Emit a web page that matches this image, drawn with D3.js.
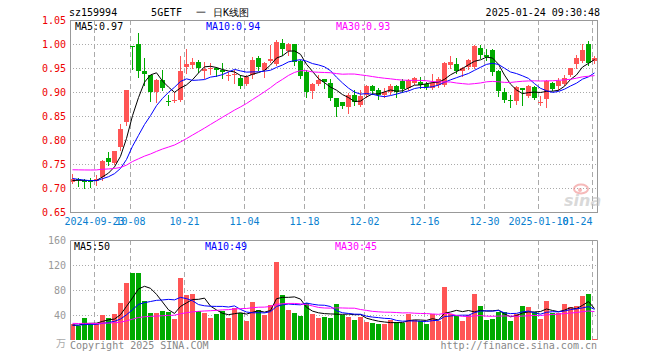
<!DOCTYPE html>
<html>
<head>
<meta charset="utf-8">
<script src="https://cdn.jsdelivr.net/npm/d3@7"></script>
<style>
  body { margin: 0; background: #fff; }
  svg { display: block; }
  text { font-family: "DejaVu Sans Mono", monospace; font-size: 10px; }
</style>
</head>
<body>
<div id="main-chart"></div>
<script>
// daily bars, oldest first (price in yuan, volume in 10k)
var open = [0.713,0.719,0.716,0.716,0.714,0.722,0.763,0.752,0.785,0.837,
  0.995,1.001,0.944,0.935,0.899,0.926,0.882,0.881,0.883,0.953,
  0.957,0.962,0.944,0.948,0.951,0.946,0.934,0.935,0.930,0.917,
  0.935,0.970,0.946,0.965,0.958,1.003,0.985,0.999,0.965,0.942,
  0.902,0.917,0.927,0.918,0.887,0.879,0.869,0.894,0.873,0.894,
  0.912,0.904,0.894,0.899,0.912,0.923,0.908,0.919,0.921,0.916,
  0.909,0.915,0.915,0.956,0.958,0.943,0.953,0.953,0.992,0.977,
  0.988,0.944,0.899,0.884,0.881,0.908,0.892,0.911,0.878,0.885,
  0.918,0.913,0.916,0.935,0.958,0.965,0.999,0.964];
var high = [0.730,0.720,0.718,0.721,0.727,0.758,0.776,0.778,0.833,0.905,
  0.995,1.023,0.970,0.936,0.927,0.946,0.894,0.900,0.974,0.989,
  0.970,0.966,0.963,0.960,0.953,0.961,0.942,0.946,0.935,0.935,
  0.972,0.976,0.963,0.998,1.008,1.010,1.003,1.001,0.967,0.946,
  0.918,0.935,0.928,0.928,0.888,0.880,0.897,0.904,0.904,0.915,
  0.915,0.908,0.908,0.916,0.915,0.927,0.928,0.932,0.932,0.921,
  0.937,0.932,0.963,0.974,0.970,0.953,0.968,0.998,0.998,0.990,
  0.989,0.945,0.908,0.894,0.912,0.909,0.915,0.912,0.891,0.925,
  0.920,0.930,0.935,0.951,0.977,0.999,1.006,0.975];
var low = [0.710,0.704,0.700,0.702,0.706,0.716,0.748,0.750,0.779,0.832,
  0.948,0.932,0.915,0.882,0.880,0.904,0.873,0.880,0.882,0.939,
  0.950,0.942,0.930,0.937,0.934,0.930,0.925,0.918,0.909,0.915,
  0.929,0.946,0.932,0.963,0.956,0.978,0.978,0.957,0.930,0.890,
  0.888,0.915,0.908,0.883,0.850,0.866,0.857,0.873,0.871,0.890,
  0.895,0.885,0.890,0.895,0.890,0.901,0.904,0.916,0.908,0.906,
  0.907,0.911,0.913,0.949,0.939,0.934,0.947,0.950,0.971,0.967,
  0.935,0.892,0.880,0.869,0.876,0.873,0.890,0.886,0.872,0.868,
  0.904,0.904,0.914,0.934,0.949,0.963,0.956,0.960];
var close = [0.719,0.716,0.712,0.713,0.718,0.757,0.755,0.777,0.823,0.904,
  0.994,0.944,0.937,0.899,0.926,0.908,0.881,0.883,0.944,0.958,
  0.962,0.951,0.947,0.950,0.945,0.941,0.936,0.937,0.913,0.932,
  0.967,0.953,0.960,0.969,1.005,0.990,1.001,0.963,0.934,0.901,
  0.916,0.925,0.921,0.888,0.869,0.870,0.894,0.880,0.892,0.912,
  0.902,0.894,0.901,0.912,0.899,0.906,0.924,0.930,0.915,0.911,
  0.918,0.928,0.960,0.962,0.944,0.951,0.967,0.996,0.977,0.972,
  0.942,0.902,0.883,0.883,0.911,0.904,0.913,0.888,0.879,0.922,
  0.906,0.923,0.930,0.949,0.970,0.988,0.961,0.970];
var volume = [25.6,23,35.7,25,25,40,35.7,42,59.7,91.7,
  107.7,107.7,62.9,43.5,43.5,46.4,45,34,99.5,72,
  73.6,46.4,43.5,35.5,41.6,46.4,35.5,51.5,43,30.8,
  61,48,40,56,125.3,72,48,43.5,38.5,59.5,
  41.6,34.5,37,36,57.6,40,36.8,32,36.8,28.8,
  27.2,25.6,25.6,32,28.8,27.2,41,32,31,25.6,
  41,31,85,41.6,38.4,31,40,74,54,32,
  33.6,44.8,44.8,30.4,41.6,55,52.8,44.8,33.6,62,
  43,43,57.6,52.8,54,70,73,1.6];

// sessions before the window, only feeding the moving averages (estimated)
var priorClose = [0.722,0.718,0.715,0.713,0.716,0.735,0.748,0.757,0.762,0.768,
  0.772,0.770,0.766,0.763,0.760,0.758,0.756,0.752,0.748,0.742,
  0.735,0.728,0.722,0.719,0.716,0.714,0.713,0.715,0.717];
var priorVolume = [30,28,26,31,27,29,25,33,28,26,
  30,27,24,29,31,26,28,25,27,30,
  24,26,22,25,23,24,22,23,24];

var priceTicks = [1.05,1.00,0.95,0.90,0.85,0.80,0.75,0.70,0.65];
var volumeTicks = [160,120,80,40];
var tickIndex = [4,10,19,29,39,49,59,69,78,87];
var tickLabels = ["2024-09-23","10-08","10-21","11-04","11-18","12-02","12-16","12-30","2025-01-10","01-24"];
var maPeriods = [5,10,30];
var maColors = ["#000000","#0000ff","#ff00ff"];

var UP = "#ff5555", DOWN = "#00aa00", GRID = "#aaaaaa", BORDER = "#999999";
var left = 70, right = 597;

var svg = d3.select("#main-chart").append("svg")
  .attr("width", 660).attr("height", 360);

var n = close.length;
var x = d3.scaleBand().domain(d3.range(n))
  .range([left, left + 6 * n - 1]).paddingInner(1 / 6).paddingOuter(0);
var cx = function(i) { return x(i) + 2.5; };
var yP = d3.scaleLinear().domain([0.65, 1.05]).range([212, 20]);
var yV = d3.scaleLinear().domain([0, 160]).range([340, 240]);

function movingAverage(values, prior, p) {
  var all = prior.concat(values), off = prior.length;
  return values.map(function(v, i) {
    return d3.mean(all.slice(off + i - p + 1, off + i + 1));
  });
}

function frame(top, bottom, hTicks, yScale) {
  var g = svg.append("g");
  // horizontal dotted grid
  g.selectAll("line.h").data(hTicks).enter().append("line")
    .attr("x1", left).attr("x2", right)
    .attr("y1", function(d) { return Math.round(yScale(d)) + 0.5; })
    .attr("y2", function(d) { return Math.round(yScale(d)) + 0.5; })
    .attr("stroke", GRID).attr("stroke-dasharray", "1,2");
  // vertical dashed grid
  g.selectAll("line.v").data(tickIndex).enter().append("line")
    .attr("x1", function(d) { return x(d) + 0.5; })
    .attr("x2", function(d) { return x(d) + 0.5; })
    .attr("y1", top).attr("y2", bottom)
    .attr("stroke", GRID).attr("stroke-dasharray", "5,3");
  return g;
}

// ---- price panel
frame(20, 212, priceTicks.slice(1, -1), yP);

svg.append("g").selectAll("text").data(priceTicks).enter().append("text")
  .attr("x", 66).attr("y", function(d) { return yP(d) + 4; })
  .attr("text-anchor", "end").attr("fill", "#ee0000")
  .text(d3.format(".2f"));

var candles = svg.append("g").attr("shape-rendering", "crispEdges");
candles.selectAll("line").data(d3.range(n)).enter().append("line")
  .attr("x1", function(i) { return cx(i); }).attr("x2", function(i) { return cx(i); })
  .attr("y1", function(i) { return Math.round(yP(high[i])); })
  .attr("y2", function(i) { return Math.round(yP(low[i])) + 1; })
  .attr("stroke", function(i) { return close[i] >= open[i] ? UP : DOWN; });
candles.selectAll("rect").data(d3.range(n)).enter().append("rect")
  .attr("x", function(i) { return x(i); })
  .attr("width", x.bandwidth())
  .attr("y", function(i) { return Math.round(yP(Math.max(open[i], close[i]))); })
  .attr("height", function(i) {
    return Math.max(1, Math.round(yP(Math.min(open[i], close[i]))) - Math.round(yP(Math.max(open[i], close[i]))));
  })
  .attr("fill", function(i) { return close[i] >= open[i] ? UP : DOWN; });

var priceMA = maPeriods.map(function(p) { return movingAverage(close, priorClose, p); });
var lineP = d3.line().x(function(d, i) { return cx(i); }).y(function(d) { return yP(d); });
svg.append("g").attr("clip-path", "url(#clipP)").selectAll("path").data(priceMA).enter().append("path")
  .attr("d", lineP).attr("fill", "none")
  .attr("stroke", function(d, k) { return maColors[k]; })
  .attr("stroke-width", 1);

svg.append("clipPath").attr("id", "clipP").append("rect")
  .attr("x", left).attr("y", 20).attr("width", right - left).attr("height", 192);

svg.append("rect").attr("x", left + 0.5).attr("y", 20.5)
  .attr("width", right - left).attr("height", 192)
  .attr("fill", "none").attr("stroke", BORDER);

var maPos = [75, 206, 336];
svg.append("g").selectAll("text").data(priceMA).enter().append("text")
  .attr("x", function(d, k) { return maPos[k]; }).attr("y", 30)
  .attr("fill", function(d, k) { return maColors[k]; })
  .text(function(d, k) { return "MA" + maPeriods[k] + ":" + d3.format(".2f")(d[n - 1]); });

// date labels
svg.append("g").selectAll("text").data(tickIndex).enter().append("text")
  .attr("x", function(d) { return x(d) + 0.5; }).attr("y", 225)
  .attr("text-anchor", function(d, k) { return k === tickIndex.length - 1 ? "end" : "middle"; })
  .attr("fill", "#0a7fd0")
  .text(function(d, k) { return tickLabels[k]; });

// sina watermark
var wm = svg.append("g").attr("opacity", 0.55);
wm.append("ellipse").attr("cx", 581).attr("cy", 189).attr("rx", 7).attr("ry", 4.5)
  .attr("fill", "none").attr("stroke", "#f08080").attr("stroke-width", 2);
wm.append("circle").attr("cx", 580).attr("cy", 190).attr("r", 2).attr("fill", "#f08080");
wm.append("text").attr("x", 564).attr("y", 206)
  .style("font-family", "Verdana, DejaVu Sans, sans-serif").style("font-size", "16px")
  .style("font-style", "italic").style("font-weight", "bold")
  .attr("fill", "#bbbbbb").text("sina");

// ---- volume panel
frame(240, 340, volumeTicks.slice(1), yV);

svg.append("g").selectAll("text").data(volumeTicks).enter().append("text")
  .attr("x", 66).attr("y", function(d) { return yV(d) + 4; })
  .attr("text-anchor", "end").attr("fill", "#999999")
  .text(function(d) { return d; });
svg.append("text").attr("x", 66).attr("y", 347).attr("text-anchor", "end")
  .attr("fill", "#aaaaaa").style("font-family", "Noto Sans CJK SC").text("万");

svg.append("g").attr("shape-rendering", "crispEdges")
  .selectAll("rect").data(d3.range(n)).enter().append("rect")
  .attr("x", function(i) { return x(i); })
  .attr("width", x.bandwidth())
  .attr("y", function(i) { return Math.round(yV(volume[i])); })
  .attr("height", function(i) { return 340 - Math.round(yV(volume[i])); })
  .attr("fill", function(i) { return close[i] >= open[i] ? UP : DOWN; });

var volMA = maPeriods.map(function(p) { return movingAverage(volume, priorVolume, p); });
var lineV = d3.line().x(function(d, i) { return cx(i); }).y(function(d) { return yV(d); });
svg.append("g").selectAll("path").data(volMA).enter().append("path")
  .attr("d", lineV).attr("fill", "none")
  .attr("stroke", function(d, k) { return maColors[k]; });

svg.append("path")
  .attr("d", "M" + (left + 0.5) + ",340V240.5H" + (right + 0.5) + "V340")
  .attr("fill", "none").attr("stroke", BORDER);

svg.append("g").selectAll("text").data(volMA).enter().append("text")
  .attr("x", function(d, k) { return maPos[k] - 1; }).attr("y", 250)
  .attr("fill", function(d, k) { return maColors[k]; })
  .text(function(d, k) { return "MA" + maPeriods[k] + ":" + Math.round(d[n - 1]); });

// ---- header and footer
svg.append("text").attr("x", 69).attr("y", 16).attr("fill", "#000").text("sz159994");
var title = svg.append("g").style("font-family", "'Noto Sans CJK SC', sans-serif").style("font-size", "12px");
title.append("text").attr("x", 151).attr("y", 16).attr("textLength", 31).text("5GETF");
title.append("text").attr("x", 196).attr("y", 16).text("一");
title.append("text").attr("x", 213).attr("y", 16).text("日K线图");
svg.append("text").attr("x", 600).attr("y", 16).attr("text-anchor", "end").text("2025-01-24 09:30:48");

svg.append("text").attr("x", 70).attr("y", 349).attr("fill", "#888888").text("Copyright 2025 SINA.COM");
svg.append("text").attr("x", 597).attr("y", 349).attr("text-anchor", "end")
  .attr("fill", "#888888").text("http://finance.sina.com.cn");
</script>
</body>
</html>
